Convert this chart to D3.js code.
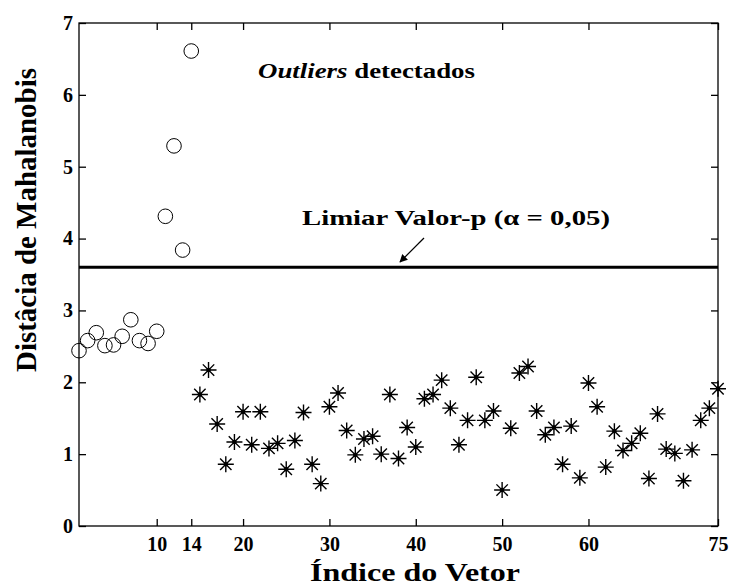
<!DOCTYPE html>
<html>
<head>
<meta charset="utf-8">
<script src="https://cdn.jsdelivr.net/npm/d3@7"></script>
<style>
  html, body { margin: 0; padding: 0; background: #fff; }
  svg { display: block; }
  text { font-family: "Liberation Serif", "Times New Roman", serif; font-weight: bold; fill: #000; }
</style>
</head>
<body>
<svg id="chart" width="731" height="586"></svg>
<script>
// ---- data ----
const outlierIndex = [1,2,3,4,5,6,7,8,9,10,11,12,13,14];
const outlierValues = [2.44,2.58,2.69,2.51,2.52,2.64,2.87,2.58,2.54,2.71,4.31,5.29,3.84,6.61];
const normalIndex = [15,16,17,18,19,20,21,22,23,24,25,26,27,28,29,30,31,32,33,34,35,36,37,38,39,40,
  41,42,43,44,45,46,47,48,49,50,51,52,53,54,55,56,57,58,59,60,61,62,63,64,65,66,67,68,69,70,71,72,73,74,75];
const normalValues = [1.83,2.17,1.42,0.86,1.17,1.59,1.13,1.59,1.08,1.15,0.79,1.19,1.58,0.86,0.59,1.66,1.85,1.33,0.99,1.21,1.25,1.00,1.83,0.94,1.37,1.10,
  1.77,1.83,2.03,1.64,1.13,1.47,2.07,1.47,1.60,0.50,1.36,2.13,2.22,1.60,1.27,1.37,0.86,1.39,0.67,1.99,1.66,0.82,1.32,1.05,1.15,1.29,0.66,1.56,1.07,1.01,0.63,1.06,1.47,1.64,1.91];
const threshold = 3.60;
const xTicks = [10,14,20,30,40,50,60,75];
const yTicks = [0,1,2,3,4,5,6,7];
const xDomain = [1,75];
const yDomain = [0,7];

// ---- layout ----
const svg = d3.select("#chart");
const pL = 79, pR = 718, pT = 23, pB = 526;
const x = d3.scaleLinear().domain(xDomain).range([pL, pR]);
const y = d3.scaleLinear().domain(yDomain).range([pB, pT]);
const tickLen = 7;

// box
svg.append("rect").attr("x", pL).attr("y", pT).attr("width", pR-pL).attr("height", pB-pT)
  .attr("fill", "none").attr("stroke", "#000").attr("stroke-width", 1.3);

// axes with inward ticks
const gB = svg.append("g").attr("transform", `translate(0,${pB})`)
  .call(d3.axisBottom(x).tickValues(xTicks).tickSizeInner(-tickLen).tickSizeOuter(0).tickPadding(11).tickFormat(d3.format("d")));
const gT = svg.append("g").attr("transform", `translate(0,${pT})`)
  .call(d3.axisTop(x).tickValues(xTicks).tickSizeInner(-tickLen).tickSizeOuter(0).tickFormat(""));
const gL = svg.append("g").attr("transform", `translate(${pL},0)`)
  .call(d3.axisLeft(y).tickValues(yTicks).tickSizeInner(-tickLen).tickSizeOuter(0).tickPadding(6).tickFormat(d3.format("d")));
const gR = svg.append("g").attr("transform", `translate(${pR},0)`)
  .call(d3.axisRight(y).tickValues(yTicks).tickSizeInner(-tickLen).tickSizeOuter(0).tickFormat(""));
[gB,gT,gL,gR].forEach(g => {
  g.select(".domain").remove();
  g.selectAll(".tick line").attr("stroke", "#000").attr("stroke-width", 1.3);
  g.selectAll("text").attr("font-family", "Liberation Serif").attr("font-weight", "bold")
    .attr("font-size", 20).attr("fill", "#000");
});

// threshold line
svg.append("line").attr("x1", pL).attr("x2", pR).attr("y1", y(threshold)).attr("y2", y(threshold))
  .attr("stroke", "#000").attr("stroke-width", 3);

// outlier circles
svg.append("g").selectAll("circle").data(outlierIndex.map((d,i)=>[d, outlierValues[i]])).join("circle")
  .attr("cx", d => x(d[0])).attr("cy", d => y(d[1])).attr("r", 7.3)
  .attr("fill", "none").attr("stroke", "#000").attr("stroke-width", 1);

// star markers
const s = 8, sd = 5.7;
const stars = svg.append("g").selectAll("g").data(normalIndex.map((d,i)=>[d, normalValues[i]])).join("g")
  .attr("transform", d => `translate(${x(d[0])},${y(d[1])})`);
stars.append("path")
  .attr("d", `M${-s},0H${s}M0,${-s}V${s}M${-sd},${-sd}L${sd},${sd}M${-sd},${sd}L${sd},${-sd}`)
  .attr("stroke", "#000").attr("stroke-width", 1.4).attr("fill", "none");
stars.append("circle").attr("r", 2.2).attr("fill", "#000");

// annotations
const ann1 = svg.append("text").attr("x", 258).attr("y", 78).attr("font-size", 20)
  .attr("textLength", 217).attr("lengthAdjust", "spacingAndGlyphs");
ann1.append("tspan").attr("font-style", "italic").text("Outliers");
ann1.append("tspan").text(" detectados");

svg.append("text").attr("x", 302).attr("y", 225).attr("font-size", 20)
  .attr("textLength", 308).attr("lengthAdjust", "spacingAndGlyphs")
  .text("Limiar Valor-p (α = 0,05)");

// arrow
svg.append("defs").append("marker").attr("id", "ah").attr("viewBox", "0 0 10 10")
  .attr("refX", 9).attr("refY", 5).attr("markerWidth", 8).attr("markerHeight", 8)
  .attr("orient", "auto").attr("markerUnits", "userSpaceOnUse")
  .append("path").attr("d", "M0,0L10,5L0,10z").attr("fill", "#000");
svg.append("line").attr("x1", 424).attr("y1", 238).attr("x2", 400).attr("y2", 262)
  .attr("stroke", "#000").attr("stroke-width", 1.2).attr("marker-end", "url(#ah)");

// axis titles
svg.append("text").attr("x", 310).attr("y", 581).attr("font-size", 26)
  .attr("textLength", 210).attr("lengthAdjust", "spacingAndGlyphs")
  .text("Índice do Vetor");
svg.append("text").attr("transform", "translate(36,372) rotate(-90)")
  .attr("font-size", 30).attr("textLength", 304).attr("lengthAdjust", "spacingAndGlyphs")
  .text("Distâcia de Mahalanobis");
</script>
</body>
</html>
